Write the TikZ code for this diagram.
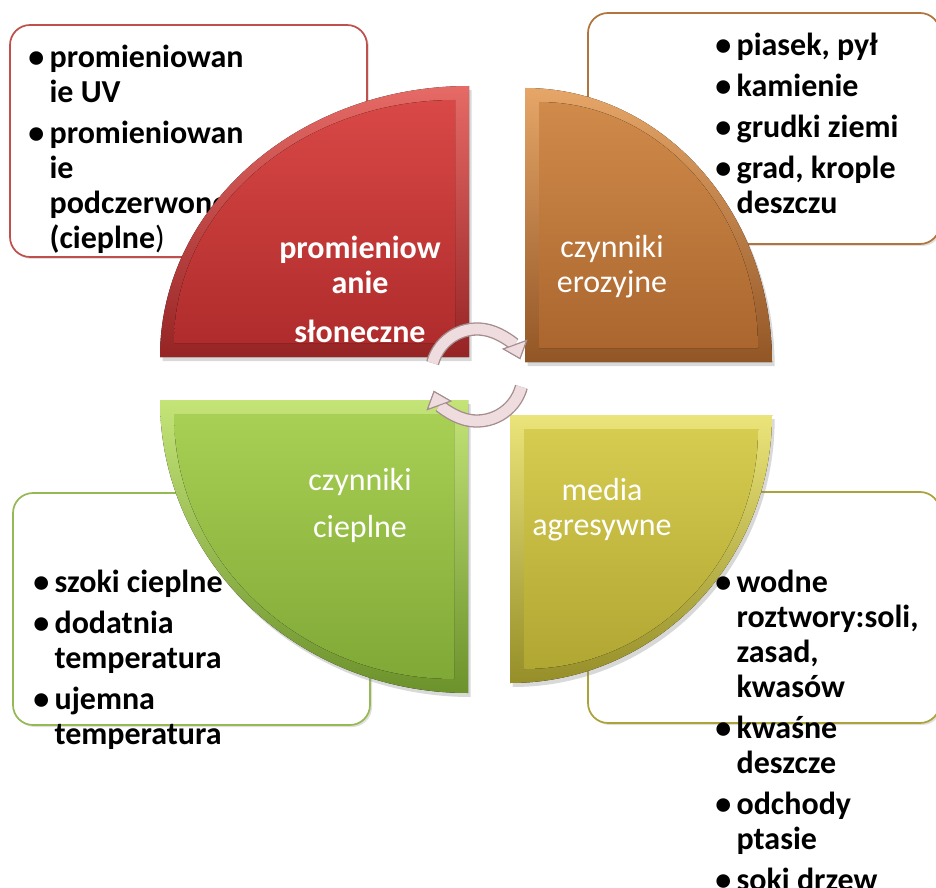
\documentclass[tikz,border=0pt]{standalone}
\usepackage{fontspec}
\setmainfont{Carlito}
\usepackage{xcolor}
\usetikzlibrary{arrows.meta,shadows}

\definecolor{redtop}{RGB}{216,72,70}
\definecolor{redbot}{RGB}{176,44,44}
\definecolor{redlight}{RGB}{230,106,102}
\definecolor{reddark}{RGB}{150,36,36}
\definecolor{orangetop}{RGB}{208,138,74}
\definecolor{orangebot}{RGB}{170,102,46}
\definecolor{orangelight}{RGB}{230,166,104}
\definecolor{orangedark}{RGB}{146,86,38}
\definecolor{greentop}{RGB}{168,208,84}
\definecolor{greenbot}{RGB}{128,168,54}
\definecolor{greenlight}{RGB}{196,228,120}
\definecolor{greendark}{RGB}{108,146,44}
\definecolor{yellowtop}{RGB}{214,204,80}
\definecolor{yellowbot}{RGB}{176,166,50}
\definecolor{yellowlight}{RGB}{234,228,122}
\definecolor{yellowdark}{RGB}{150,142,40}
\definecolor{redbox}{RGB}{192,80,77}
\definecolor{orangebox}{RGB}{176,116,60}
\definecolor{greenbox}{RGB}{150,185,85}
\definecolor{yellowbox}{RGB}{172,162,58}
\definecolor{cyclepink}{RGB}{238,220,222}
\definecolor{cyclegray}{RGB}{165,140,142}

\tikzset{
  listbox/.style={fill=white, line width=1.3pt, rounded corners=15pt,
    drop shadow={opacity=0.25, shadow xshift=1.5pt, shadow yshift=-1.5pt}},
  quadshadow/.style={drop shadow={opacity=0.3, shadow xshift=2pt, shadow yshift=-3pt}},
  listtext/.style={font=\bfseries\fontsize{24}{26.25}\selectfont, align=left, inner sep=0pt, text=black, anchor=north west},
  quadlabel/.style={font=\fontsize{24}{26.25}\selectfont, align=center, inner sep=0pt, text=white, anchor=north},
  cyclearrow/.style={cyclepink, line width=8pt,
    preaction={draw=cyclegray, line width=10pt},
    -{Triangle[length=12pt, width=20pt, fill=cyclepink, color=cyclegray, line width=0.8pt]}}
}

\newcommand{\itm}{\makebox[16pt][l]{\textbullet}}
\newcommand{\ind}{\hspace*{16pt}}
\newcommand{\topstrut}{\rule{0pt}{20pt}}

\begin{document}
\begin{tikzpicture}[x=0.75pt,y=0.75pt,yscale=-1,xscale=1]
\useasboundingbox (0,0) rectangle (936,888);

% Text boxes
\draw[listbox, draw=redbox] (10,25) rectangle (367,257);
\node[listtext] (uvlist) at (28,40.3) {\topstrut\itm promieniowan\\ \ind ie UV\\[4.5pt]
  \itm promieniowan\\ \ind ie\\ \ind podczerwone\\ \ind (cieplne{\mdseries)}};
\draw[listbox, draw=orangebox] (588,13) rectangle (940,244);
\draw[listbox, draw=greenbox] (13,493) rectangle (370,725);
\draw[listbox, draw=yellowbox] (588,492) rectangle (940,723);

% Shape: red quadrant
\fill[quadshadow, top color=redlight, bottom color=reddark] (469,357) -- (160,357) arc[start angle=180, end angle=270, x radius=309, y radius=271] -- cycle;
\fill[top color=redtop, bottom color=redbot] (455,343) -- (174,343) arc[start angle=180, end angle=270, x radius=281, y radius=243] -- cycle;
% Shape: orange quadrant
\fill[quadshadow, top color=orangelight, bottom color=orangedark] (525,362) -- (525,88) arc[start angle=270, end angle=360, x radius=247, y radius=274] -- cycle;
\fill[top color=orangetop, bottom color=orangebot] (539,348) -- (539,102) arc[start angle=270, end angle=360, x radius=219, y radius=246] -- cycle;
% Shape: green quadrant
\fill[quadshadow, top color=greenlight, bottom color=greendark] (468,400) -- (160,400) arc[start angle=180, end angle=90, x radius=308, y radius=293] -- cycle;
\fill[top color=greentop, bottom color=greenbot] (454,414) -- (174,414) arc[start angle=180, end angle=90, x radius=280, y radius=265] -- cycle;
% Shape: yellow quadrant
\fill[quadshadow, top color=yellowlight, bottom color=yellowdark] (510,415) -- (772,415) arc[start angle=0, end angle=90, x radius=262, y radius=268] -- cycle;
\fill[top color=yellowtop, bottom color=yellowbot] (524,429) -- (758,429) arc[start angle=0, end angle=90, x radius=234, y radius=240] -- cycle;

% Quadrant labels
\node[quadlabel, font=\bfseries\fontsize{24}{26.25}\selectfont] (sun) at (360,231.3) {\topstrut promieniow\\ anie\\[10.5pt] słoneczne};
\node[quadlabel] (erosion) at (612,230.3) {\topstrut czynniki\\ erozyjne};
\node[quadlabel] (heat) at (360,463.3) {\topstrut czynniki\\[9pt] cieplne};
\node[quadlabel] (media) at (602,473.3) {\topstrut media\\ agresywne};

% Bullet lists
\node[listtext] (erosionlist) at (715,28.3) {\topstrut\itm piasek, pył\\[4.5pt] \itm kamienie\\[4.5pt]
  \itm grudki ziemi\\[4.5pt] \itm grad, krople\\ \ind deszczu};
\node[listtext] (heatlist) at (33,565.3) {\topstrut\itm szoki cieplne\\[4.5pt] \itm dodatnia\\ \ind temperatura\\[4.5pt]
  \itm ujemna\\ \ind temperatura};
\node[listtext] (medialist) at (715,565.3) {\topstrut\itm wodne\\ \ind roztwory:soli,\\ \ind zasad,\\ \ind kwasów\\[4.5pt]
  \itm kwaśne\\ \ind deszcze\\[4.5pt] \itm odchody\\ \ind ptasie\\[4.5pt] \itm soki drzew};

% Cycle arrows
\coordinate (cyc1) at (432.6,363.1);
\coordinate (cyc2) at (521.4,386.9);
\draw[cyclearrow] (cyc1) arc[start angle=195, end angle=340, radius=46];
\draw[cyclearrow] (cyc2) arc[start angle=15, end angle=160, radius=46];

\end{tikzpicture}
\end{document}
